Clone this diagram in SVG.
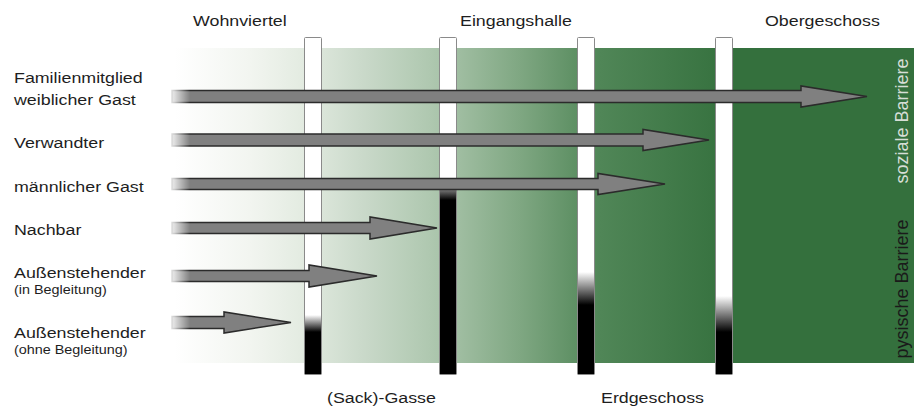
<svg xmlns="http://www.w3.org/2000/svg" width="914" height="408" viewBox="0 0 914 408">
  <defs>
    <!-- background: white fading into dark green -->
    <linearGradient id="greenFade" gradientUnits="userSpaceOnUse" x1="175" y1="0" x2="735" y2="0">
      <stop offset="0" stop-color="#ffffff"/>
      <stop offset="0.134" stop-color="#f2f5f0"/>
      <stop offset="0.223" stop-color="#e4ece2"/>
      <stop offset="0.33" stop-color="#cbdacb"/>
      <stop offset="0.455" stop-color="#afc8b0"/>
      <stop offset="0.616" stop-color="#7fa782"/>
      <stop offset="0.759" stop-color="#508657"/>
      <stop offset="1" stop-color="#34703d"/>
    </linearGradient>
    <!-- barrier posts: white top turning black towards the bottom -->
    <linearGradient id="post1" gradientUnits="userSpaceOnUse" x1="0" y1="315" x2="0" y2="332">
      <stop offset="0" stop-color="#ffffff"/>
      <stop offset="1" stop-color="#000000"/>
    </linearGradient>
    <linearGradient id="post2" gradientUnits="userSpaceOnUse" x1="0" y1="178" x2="0" y2="200">
      <stop offset="0" stop-color="#ffffff"/>
      <stop offset="1" stop-color="#000000"/>
    </linearGradient>
    <linearGradient id="post3" gradientUnits="userSpaceOnUse" x1="0" y1="272" x2="0" y2="305">
      <stop offset="0" stop-color="#ffffff"/>
      <stop offset="1" stop-color="#000000"/>
    </linearGradient>
    <linearGradient id="post4" gradientUnits="userSpaceOnUse" x1="0" y1="296" x2="0" y2="332">
      <stop offset="0" stop-color="#ffffff"/>
      <stop offset="1" stop-color="#000000"/>
    </linearGradient>
    <!-- soft left end of the arrows -->
    <linearGradient id="fadeLeft" x1="0" y1="0" x2="1" y2="0">
      <stop offset="0" stop-color="#ffffff" stop-opacity="1"/>
      <stop offset="0.35" stop-color="#ffffff" stop-opacity="0.75"/>
      <stop offset="1" stop-color="#ffffff" stop-opacity="0"/>
    </linearGradient>
  </defs>
  <style>
    .lbl { font-family: "Liberation Sans", Arial, sans-serif; font-size: 15.5px; fill: #1e1e1e; }
    .small { font-family: "Liberation Sans", Arial, sans-serif; font-size: 12.5px; fill: #1e1e1e; }
    .vert { font-family: "Liberation Sans", Arial, sans-serif; font-size: 18px; }
    .post { stroke: #8a8a8a; stroke-width: 1; }
    .arrow { fill: #808080; stroke: #2b2b2b; stroke-width: 1.5; stroke-linejoin: miter; }
  </style>

  <rect x="0" y="0" width="914" height="408" fill="#ffffff"/>

  <!-- zones -->
  <g id="background">
    <rect x="170" y="48" width="744" height="315" fill="url(#greenFade)"/>
  </g>

  <!-- barrier posts -->
  <g id="post-sackgasse">
    <rect class="post" x="304.5" y="37.5" width="17" height="337" rx="1" fill="url(#post1)"/>
  </g>
  <g id="post-eingangshalle">
    <rect class="post" x="439.5" y="37.5" width="17" height="337" rx="1" fill="url(#post2)"/>
  </g>
  <g id="post-erdgeschoss">
    <rect class="post" x="577.5" y="37.5" width="17" height="337" rx="1" fill="url(#post3)"/>
  </g>
  <g id="post-obergeschoss">
    <rect class="post" x="715.5" y="37.5" width="17" height="337" rx="1" fill="url(#post4)"/>
  </g>

  <!-- access arrows -->
  <g id="connectors">
    <path class="arrow" d="M172,90.5 L801,90.5 L801,86 L867,96.5 L801,107 L801,102.5 L172,102.5 Z"/>
    <path class="arrow" d="M172,134 L643,134 L643,129.5 L709,140 L643,150.5 L643,146 L172,146 Z"/>
    <path class="arrow" d="M172,178.5 L598,178.5 L598,173.5 L665,184 L598,194.5 L598,189.5 L172,189.5 Z"/>
    <path class="arrow" d="M172,222.5 L370,222.5 L370,217 L437,228 L370,239 L370,233.5 L172,233.5 Z"/>
    <path class="arrow" d="M172,270.5 L309,270.5 L309,265 L377,276 L309,287 L309,281.5 L172,281.5 Z"/>
    <path class="arrow" d="M172,316.5 L224,316.5 L224,312 L291,322.5 L224,333 L224,328.5 L172,328.5 Z"/>
    <rect x="166" y="80" width="24" height="260" fill="url(#fadeLeft)"/>
  </g>

  <!-- zone labels -->
  <g id="zone-labels">
    <text class="lbl" transform="translate(193,26) scale(1.15,1)">Wohnviertel</text>
    <text class="lbl" transform="translate(460,26) scale(1.15,1)">Eingangshalle</text>
    <text class="lbl" transform="translate(765,26) scale(1.15,1)">Obergeschoss</text>
    <text class="lbl" transform="translate(327,403) scale(1.15,1)">(Sack)-Gasse</text>
    <text class="lbl" transform="translate(601,403) scale(1.15,1)">Erdgeschoss</text>
  </g>

  <!-- visitor groups -->
  <g id="visitor-labels">
    <text class="lbl" transform="translate(14,83) scale(1.15,1)">Familienmitglied</text>
    <text class="lbl" transform="translate(14,105) scale(1.15,1)">weiblicher Gast</text>
    <text class="lbl" transform="translate(14,148) scale(1.15,1)">Verwandter</text>
    <text class="lbl" transform="translate(14,192) scale(1.15,1)">männlicher Gast</text>
    <text class="lbl" transform="translate(14,235) scale(1.15,1)">Nachbar</text>
    <text class="lbl" transform="translate(14,278) scale(1.15,1)">Außenstehender</text>
    <text class="small" transform="translate(14,294) scale(1.15,1)">(in Begleitung)</text>
    <text class="lbl" transform="translate(14,338) scale(1.15,1)">Außenstehender</text>
    <text class="small" transform="translate(14,354) scale(1.15,1)">(ohne Begleitung)</text>
  </g>

  <!-- barrier types -->
  <g id="barrier-labels">
    <text class="vert" fill="#d6ded6" text-anchor="middle" transform="translate(908,121) rotate(-90)">soziale Barriere</text>
    <text class="vert" fill="#1a1a1a" text-anchor="middle" transform="translate(908,289) rotate(-90)">pysische Barriere</text>
  </g>
</svg>
